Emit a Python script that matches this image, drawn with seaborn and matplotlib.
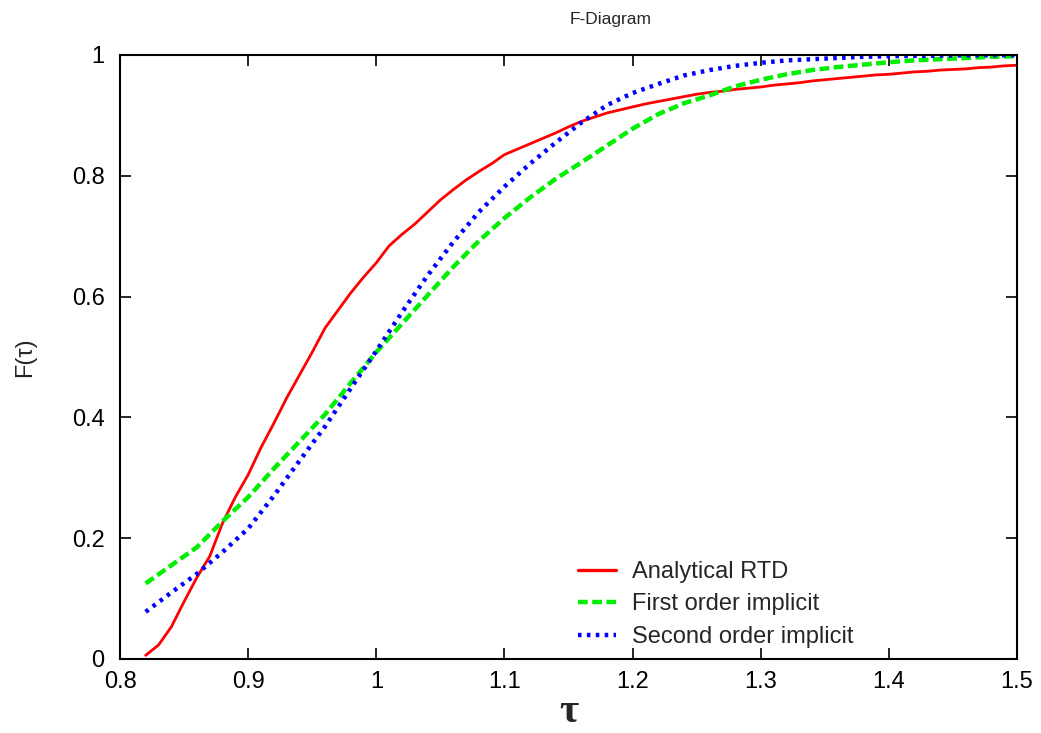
import numpy as np
import pandas as pd
import matplotlib
matplotlib.use("Agg")
import matplotlib.pyplot as plt
from matplotlib.ticker import FormatStrFormatter, MultipleLocator
import seaborn as sns

sns.set_theme(style="white")
plt.rcParams['font.family'] = ['Liberation Sans', 'DejaVu Sans']

# analytical RTD, read at 0.01 steps
tau_rtd = [0.82, 0.83, 0.84, 0.85, 0.86, 0.87, 0.88, 0.89, 0.90, 0.91,
           0.92, 0.93, 0.94, 0.95, 0.96, 0.97, 0.98, 0.99, 1.00, 1.01,
           1.02, 1.03, 1.04, 1.05, 1.06, 1.07, 1.08, 1.09, 1.10, 1.11,
           1.12, 1.13, 1.14, 1.15, 1.16, 1.17, 1.18, 1.19, 1.20, 1.21,
           1.22, 1.23, 1.24, 1.25, 1.26, 1.27, 1.28, 1.29, 1.30, 1.31,
           1.32, 1.33, 1.34, 1.35, 1.36, 1.37, 1.38, 1.39, 1.40, 1.41,
           1.42, 1.43, 1.44, 1.45, 1.46, 1.47, 1.48, 1.49, 1.50]
F_rtd = [0.006, 0.023, 0.053, 0.095, 0.135, 0.170, 0.225, 0.268, 0.305, 0.350,
         0.390, 0.432, 0.470, 0.508, 0.548, 0.577, 0.606, 0.632, 0.656, 0.684,
         0.703, 0.720, 0.740, 0.760, 0.777, 0.793, 0.807, 0.820, 0.835, 0.844,
         0.853, 0.862, 0.871, 0.881, 0.890, 0.897, 0.904, 0.909, 0.914, 0.919,
         0.923, 0.927, 0.931, 0.935, 0.938, 0.940, 0.943, 0.945, 0.947, 0.950,
         0.952, 0.954, 0.957, 0.959, 0.961, 0.963, 0.965, 0.967, 0.968, 0.970,
         0.972, 0.973, 0.975, 0.976, 0.977, 0.979, 0.980, 0.982, 0.983]

# numerical schemes, read at 0.02 steps
tau_num = [0.82, 0.84, 0.86, 0.88, 0.90, 0.92, 0.94, 0.96, 0.98, 1.00,
           1.02, 1.04, 1.06, 1.08, 1.10, 1.12, 1.14, 1.16, 1.18, 1.20,
           1.22, 1.24, 1.26, 1.28, 1.30, 1.32, 1.34, 1.36, 1.38, 1.40,
           1.42, 1.44, 1.46, 1.48, 1.50]
F_first = [0.125, 0.155, 0.185, 0.228, 0.268, 0.315, 0.360, 0.405, 0.457, 0.508,
           0.555, 0.602, 0.649, 0.692, 0.730, 0.764, 0.795, 0.822, 0.850, 0.878,
           0.902, 0.920, 0.933, 0.948, 0.959, 0.968, 0.975, 0.980, 0.984, 0.988,
           0.991, 0.993, 0.995, 0.997, 0.998]
F_second = [0.078, 0.110, 0.141, 0.177, 0.216, 0.270, 0.328, 0.385, 0.448, 0.510,
            0.574, 0.635, 0.690, 0.740, 0.782, 0.820, 0.855, 0.888, 0.917, 0.937,
            0.952, 0.966, 0.975, 0.982, 0.987, 0.991, 0.993, 0.995, 0.997, 0.998,
            0.9985, 0.999, 0.9993, 0.9996, 0.9997]

labels = ["Analytical RTD", "First order implicit", "Second order implicit"]
df = pd.concat([
    pd.DataFrame({"tau": tau_rtd, "F": F_rtd, "Series": labels[0]}),
    pd.DataFrame({"tau": tau_num, "F": F_first, "Series": labels[1]}),
    pd.DataFrame({"tau": tau_num, "F": F_second, "Series": labels[2]}),
])

pal = {labels[0]: "#ff0000", labels[1]: "#00ee00", labels[2]: "#0000ff"}

fig = plt.figure(figsize=(10.41, 7.33), dpi=100)
ax = fig.add_axes([0.1153, 0.101, 0.8617, 0.824])

sns.lineplot(data=df[df.Series == labels[0]], x="tau", y="F", color=pal[labels[0]],
             lw=2.0, ax=ax, estimator=None, label=labels[0])
sns.lineplot(data=df[df.Series == labels[1]], x="tau", y="F", color=pal[labels[1]],
             lw=3.2, ax=ax, estimator=None, label=labels[1])
sns.lineplot(data=df[df.Series == labels[2]], x="tau", y="F", color=pal[labels[2]],
             lw=3.2, ax=ax, estimator=None, label=labels[2])
ax.lines[1].set_dashes((2.2, 1.0))
ax.lines[2].set_dashes((0.8, 1.2))

ax.set_xlim(0.8, 1.5)
ax.set_ylim(0, 1)
ax.xaxis.set_major_locator(MultipleLocator(0.1))
ax.yaxis.set_major_locator(MultipleLocator(0.2))
ax.xaxis.set_major_formatter(FormatStrFormatter('%g'))
ax.yaxis.set_major_formatter(FormatStrFormatter('%g'))
ax.tick_params(direction='in', length=8, width=1.2, top=True, right=True,
               bottom=True, left=True, labelsize=17, colors='black')
ax.tick_params(axis='x', pad=9)
ax.tick_params(axis='y', pad=11)
for s in ax.spines.values():
    s.set_color('black')
    s.set_linewidth(1.5)

ax.set_title("F-Diagram", fontsize=12.5, pad=22, x=0.547)
ax.set_xlabel("τ", fontsize=30, family=['Liberation Serif', 'DejaVu Serif'],
              fontweight='bold', labelpad=0)
ax.set_ylabel("F(τ)", fontsize=17, labelpad=26)

leg = ax.legend(loc='lower left', bbox_to_anchor=(0.5106, 0.018), frameon=False,
                fontsize=17, handlelength=1.6, borderaxespad=0, borderpad=0,
                labelspacing=0.45, handletextpad=0.7)
for h in leg.get_lines():
    h.set_linewidth(3.2)
leg.get_lines()[0].set_linewidth(2.4)

fig.savefig("out.png", dpi=100)
